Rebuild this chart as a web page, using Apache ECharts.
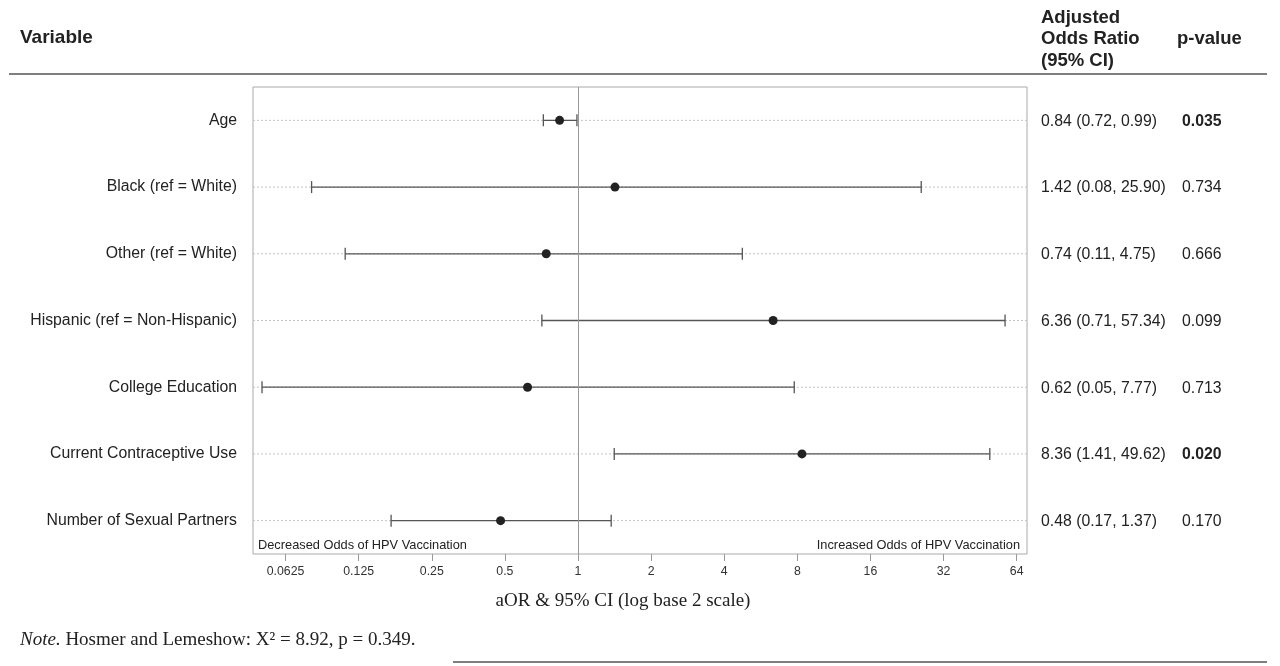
<!DOCTYPE html>
<html><head><meta charset="utf-8">
<script src="https://cdn.jsdelivr.net/npm/echarts@6/dist/echarts.min.js"></script>
<style>html,body{margin:0;padding:0;background:#fff}#c{width:1280px;height:666px}</style>
</head><body><div id="c"></div>
<script>
const categories = ['Age', 'Black (ref = White)', 'Other (ref = White)', 'Hispanic (ref = Non-Hispanic)', 'College Education', 'Current Contraceptive Use', 'Number of Sexual Partners'];
const aor = [0.84, 1.42, 0.74, 6.36, 0.62, 8.36, 0.48];
const ciLow = [0.72, 0.08, 0.11, 0.71, 0.05, 1.41, 0.17];
const ciHigh = [0.99, 25.90, 4.75, 57.34, 7.77, 49.62, 1.37];
const pValues = ['0.035', '0.734', '0.666', '0.099', '0.713', '0.020', '0.170'];
const xTicks = [0.0625, 0.125, 0.25, 0.5, 1, 2, 4, 8, 16, 32, 64];

const SANS = "'Liberation Sans', Arial, sans-serif";
const SERIF = "'Liberation Serif', 'Times New Roman', serif";
const TXT = '#222';
const ROWFONT = 15.8;

const chart = echarts.init(document.getElementById('c'), null, {renderer: 'canvas'});

const ciData = categories.map((c, i) => [ciLow[i], ciHigh[i], i,
  aor[i].toFixed(2) + ' (' + ciLow[i].toFixed(2) + ', ' + ciHigh[i].toFixed(2) + ')', pValues[i]]);

function renderCI(params, api) {
  const cs = params.coordSys;
  const idx = api.value(2);
  const p0 = api.coord([api.value(0), idx]);
  const p1 = api.coord([api.value(1), idx]);
  const y = p0[1];
  const cap = 6;
  const lineStyle = {stroke: '#555', lineWidth: 1.3};
  const pv = ciData[params.dataIndex][4];
  return {
    type: 'group',
    children: [
      {type: 'line', shape: {x1: cs.x, y1: y, x2: cs.x + cs.width, y2: y},
        style: {stroke: '#c4c4c4', lineWidth: 1, lineDash: [2, 2]}, z2: 1},
      {type: 'line', shape: {x1: p0[0], y1: y, x2: p1[0], y2: y}, style: lineStyle, z2: 5},
      {type: 'line', shape: {x1: p0[0], y1: y - cap, x2: p0[0], y2: y + cap}, style: lineStyle, z2: 5},
      {type: 'line', shape: {x1: p1[0], y1: y - cap, x2: p1[0], y2: y + cap}, style: lineStyle, z2: 5},
      {type: 'text', style: {x: cs.x + cs.width + 14, y: y + 1, text: ciData[params.dataIndex][3],
        fill: TXT, fontSize: ROWFONT, fontFamily: SANS, verticalAlign: 'middle', align: 'left'}},
      {type: 'text', style: {x: cs.x + cs.width + 155, y: y + 1, text: pv,
        fill: TXT, fontSize: ROWFONT, fontFamily: SANS, fontWeight: parseFloat(pv) < 0.05 ? 'bold' : 'normal',
        verticalAlign: 'middle', align: 'left'}}
    ]
  };
}

const option = {
  animation: false,
  backgroundColor: '#fff',
  grid: {left: 253, right: 253, top: 87, bottom: 112, show: true, borderColor: '#aaa', borderWidth: 1,
    backgroundColor: 'transparent', outerBoundsMode: 'none'},
  xAxis: {
    type: 'log', logBase: 2, min: 0.0459, max: 70.6,
    axisLine: {show: false},
    splitLine: {show: false},
    minorTick: {show: false},
    axisTick: {show: true, customValues: xTicks, length: 7, lineStyle: {color: '#999'}},
    axisLabel: {customValues: xTicks, fontSize: 12.3, color: '#333', fontFamily: SANS, margin: 12,
      formatter: v => String(+Number(v).toPrecision(6))}
  },
  yAxis: {
    type: 'category', data: categories, inverse: true,
    axisLine: {show: false}, axisTick: {show: false}, splitLine: {show: false},
    axisLabel: {fontSize: ROWFONT, color: TXT, fontFamily: SANS, margin: 16}
  },
  series: [
    {type: 'custom', renderItem: renderCI, data: ciData, encode: {x: [0, 1], y: 2}, clip: false, z: 2, silent: true},
    {type: 'scatter', data: aor.map((v, i) => [v, i]), symbol: 'circle', symbolSize: 9,
      itemStyle: {color: '#222', opacity: 1}, z: 5, silent: true,
      markLine: {silent: true, symbol: 'none', data: [{xAxis: 1}], animation: false,
        lineStyle: {color: '#999', type: 'solid', width: 1}, label: {show: false}}}
  ],
  graphic: [
    {type: 'text', x: 20, y: 38, style: {text: 'Variable', fontSize: 19, fontWeight: 'bold', fontFamily: SANS, fill: TXT, verticalAlign: 'middle'}},
    {type: 'text', x: 1041, y: 39, style: {text: 'Adjusted\nOdds Ratio\n(95% CI)', fontSize: 18.5, fontWeight: 'bold', fontFamily: SANS, fill: TXT, lineHeight: 21.5, verticalAlign: 'middle'}},
    {type: 'text', x: 1177, y: 39, style: {text: 'p-value', fontSize: 18.5, fontWeight: 'bold', fontFamily: SANS, fill: TXT, verticalAlign: 'middle'}},
    {type: 'line', shape: {x1: 9, y1: 74, x2: 1267, y2: 74}, style: {stroke: '#555', lineWidth: 1.5}},
    {type: 'text', x: 258, y: 545, style: {text: 'Decreased Odds of HPV Vaccination', fontSize: 12.8, fontFamily: SANS, fill: TXT, verticalAlign: 'middle', align: 'left'}},
    {type: 'text', x: 1020, y: 545, style: {text: 'Increased Odds of HPV Vaccination', fontSize: 12.8, fontFamily: SANS, fill: TXT, verticalAlign: 'middle', align: 'right'}},
    {type: 'text', x: 623, y: 601, style: {text: 'aOR & 95% CI (log base 2 scale)', fontSize: 19, fontFamily: SERIF, fill: TXT, verticalAlign: 'middle', align: 'center'}},
    {type: 'text', x: 20, y: 640, style: {text: '{i|Note.} Hosmer and Lemeshow: X² = 8.92, p = 0.349.', fontSize: 19, fontFamily: SERIF, fill: TXT, verticalAlign: 'middle', align: 'left',
      rich: {i: {fontStyle: 'italic', fontSize: 19, fontFamily: SERIF, fill: TXT}}}},
    {type: 'line', shape: {x1: 453, y1: 662, x2: 1267, y2: 662}, style: {stroke: '#555', lineWidth: 1.5}}
  ]
};
chart.setOption(option);
</script>
</body></html>
